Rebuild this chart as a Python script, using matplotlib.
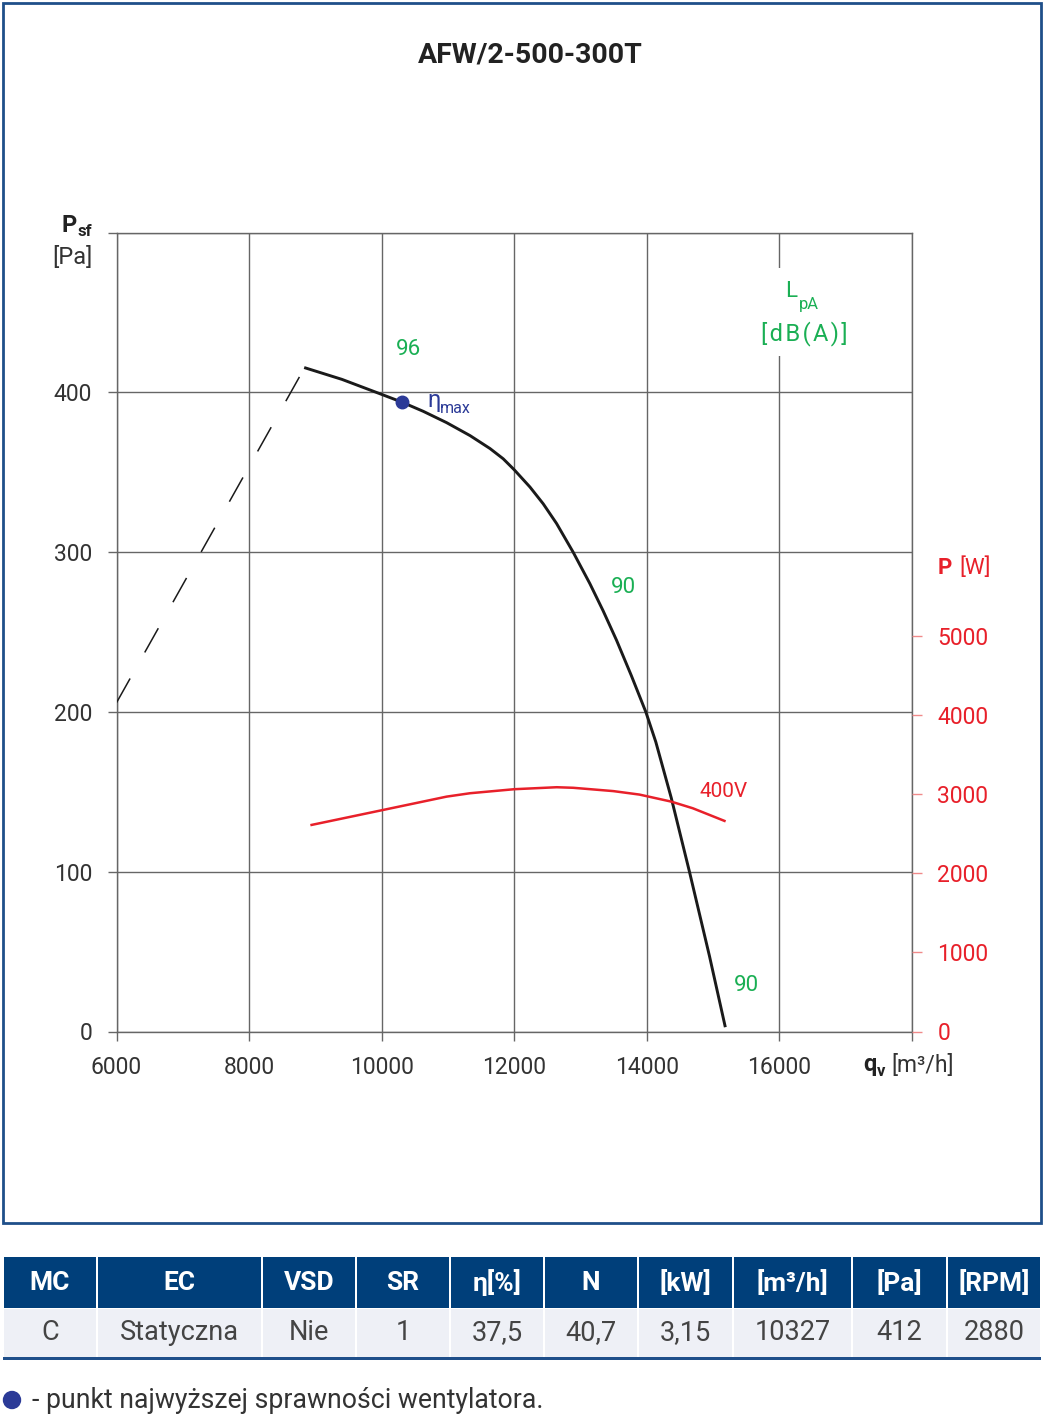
import matplotlib
matplotlib.use("Agg")
import matplotlib.pyplot as plt
from matplotlib.patches import Rectangle, Circle

plt.rcParams['font.family'] = ['Roboto', 'DejaVu Sans']
plt.rcParams['lines.scale_dashes'] = False

# fan curve (static pressure)
fan_q = [8831, 9400, 9974, 10302, 10627, 10980, 11333, 11634, 11833, 12000,
         12237, 12437, 12638, 12889, 13140, 13341, 13543, 13765, 13985, 14135,
         14368, 14643, 14945, 15184]
fan_p = [415.6, 408.2, 399.2, 394.0, 388.2, 381.1, 373.0, 364.9, 358.5, 351.6,
         340.8, 330.3, 318.0, 300.0, 280.4, 263.3, 244.9, 222.9, 200.0, 181.3,
         146.3, 100.0, 47.2, 2.7]

# unstable region (dashed)
surge_q = [6000, 8786]
surge_p = [205.8, 411.7]

# power curve 400V
power_q = [8943, 9974, 10979, 11333, 12000, 12640, 12889, 13494, 13889, 14368, 14693, 15171]
power_w = [2614, 2795, 2972, 3015, 3066, 3091, 3084, 3042, 2998, 2909, 2825, 2665]

eta_q, eta_p = 10302, 394.0

x_ticks = [6000, 8000, 10000, 12000, 14000, 16000, 18000]
y_ticks = [0, 100, 200, 300, 400, 500]
p_ticks = [0, 1000, 2000, 3000, 4000, 5000]

tbl_head = ["MC", "EC", "VSD", "SR", "η[%]", "N", "[kW]", "[m³/h]", "[Pa]", "[RPM]"]
tbl_row = ["C", "Statyczna", "Nie", "1", "37,5", "40,7", "3,15", "10327", "412", "2880"]
col_edges = [3, 97, 262, 356, 450, 544, 638, 733, 852, 947, 1041]

W, H = 1045, 1415
GRID = '#666666'
RED = '#e8202a'
GREEN = '#1aaf54'
NAVY = '#2b3a97'
TXT = '#333333'

fig = plt.figure(figsize=(W / 100, H / 100), dpi=100)

# overlay in pixel coordinates for frame, table, legend
ov = fig.add_axes([0, 0, 1, 1])
ov.set_xlim(0, W)
ov.set_ylim(H, 0)
ov.axis('off')

ov.add_patch(Rectangle((3, 3), 1038, 1220, fill=False, lw=2, ec='#1f4f8a'))
ov.text(530, 55, "AFW/2-500-300T", fontsize=20.5, fontweight='bold', color='#222222',
        ha='center', va='center')

for i in range(len(tbl_head)):
    x0, x1 = col_edges[i], col_edges[i + 1]
    ov.add_patch(Rectangle((x0 + 1, 1257), x1 - x0 - 2, 51, color='#003f7a', lw=0))
    ov.add_patch(Rectangle((x0 + 1, 1309), x1 - x0 - 2, 48, color='#eef0f6', lw=0))
    xc = (x0 + x1) / 2
    ov.text(xc, 1283, tbl_head[i], color='white', fontsize=19, fontweight='bold',
            ha='center', va='center')
    ov.text(xc, 1333, tbl_row[i], color='#444444', fontsize=19.5,
            ha='center', va='center')
ov.add_patch(Rectangle((3, 1357), 1038, 3, color='#1f4f8a', lw=0))

ov.add_patch(Circle((12, 1400), 8.5, color=NAVY))
ov.text(32, 1400, "- punkt najwyższej sprawności wentylatora.", fontsize=19.2,
        color=TXT, ha='left', va='center')

# axis titles
ov.text(77, 226, "P", fontsize=17, fontweight='bold', color='#222222', ha='right', va='center')
ov.text(78, 232, "sf", fontsize=12, fontweight='bold', color='#222222', ha='left', va='center')
ov.text(92, 257, "[Pa]", fontsize=17, color=TXT, ha='right', va='center')
ov.text(877, 1065, "q", fontsize=17, fontweight='bold', color='#222222', ha='right', va='center')
ov.text(877, 1071, "v", fontsize=12, fontweight='bold', color='#222222', ha='left', va='center')
ov.text(891, 1065, "[m³/h]", fontsize=16.5, color=TXT, ha='left', va='center')
ov.text(938, 568, "P", fontsize=16, fontweight='bold', color=RED, ha='left', va='center')
ov.text(959, 568, "[W]", fontsize=16, color=RED, ha='left', va='center')

# main chart
ax = fig.add_axes([116.5 / W, 1 - 1031.5 / H, (912 - 116.5) / W, (1031.5 - 232.7) / H])
ax.set_zorder(2)
ax.set_xlim(6000, 18000)
ax.set_ylim(0, 500)
ax.set_xticks(x_ticks)
ax.set_xticklabels([str(v) for v in x_ticks[:-1]] + [""])
ax.set_yticks(y_ticks)
ax.set_yticklabels([str(v) for v in y_ticks[:-1]] + [""])
ax.grid(True, color=GRID, lw=1)
for s in ax.spines.values():
    s.set_color(GRID)
    s.set_linewidth(1)
ax.tick_params(axis='both', length=6.5, width=1, color=GRID, labelcolor=TXT,
               labelsize=16.5, pad=11)

ax.plot(fan_q, fan_p, color='#1a1a1a', lw=2.1, solid_capstyle='butt',
        solid_joinstyle='round', zorder=4)
ax.plot(surge_q, surge_p, color='#1a1a1a', lw=1.1, dashes=(20, 21.5), zorder=4)
ax.plot(eta_q, eta_p, 'o', color=NAVY, ms=9, zorder=5)

ax.text(10690, 395, "η", fontsize=17, color=NAVY, ha='left', va='center')
ax.text(10880, 390, "max", fontsize=11.5, color=NAVY, ha='left', va='center')
ax.text(10400, 427, "96", fontsize=16, color=GREEN, ha='center', va='center')
ax.text(13640, 278, "90", fontsize=16, color=GREEN, ha='center', va='center')
ax.text(15500, 29, "90", fontsize=16, color=GREEN, ha='center', va='center')

ax.add_patch(Rectangle((15600, 423), 800, 55, color='white', lw=0, zorder=1.8))
ax.text(16260, 463, "L", fontsize=16, color=GREEN, ha='right', va='center', zorder=3)
ax.text(16290, 455, "pA", fontsize=12, color=GREEN, ha='left', va='center', zorder=3)
ax.text(16380, 437, "[\u200ad\u200aB\u200a(\u200aA\u200a)\u200a]", fontsize=17,
        color=GREEN, ha='center', va='center', zorder=3)

ax2 = ax.twinx()
ax2.set_ylim(0, 10108)
ax2.set_yticks(p_ticks)
ax2.set_yticklabels([str(v) for v in p_ticks])
for s in ax2.spines.values():
    s.set_visible(False)
ax2.tick_params(axis='y', length=7.2, width=1, color='#f08a8a', labelcolor=RED,
                labelsize=16.5, pad=11)
ax2.plot(power_q, power_w, color=RED, lw=1.8, solid_joinstyle='round', zorder=3)
ax2.text(14800, 3032, "400V", fontsize=15, color=RED, ha='left', va='center')

fig.savefig("out.png", dpi=100)
